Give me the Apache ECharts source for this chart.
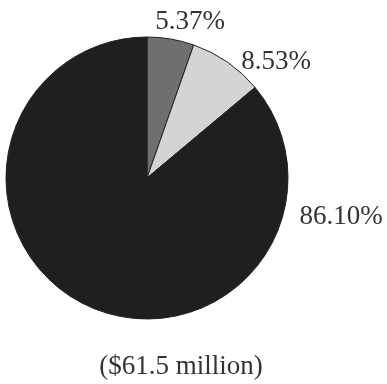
<!DOCTYPE html>
<html>
<head>
<meta charset="utf-8">
<script src="https://cdn.jsdelivr.net/npm/echarts@6/dist/echarts.min.js"></script>
<style>html,body{margin:0;padding:0;background:#fff;}#c{width:387px;height:384px;}</style>
</head>
<body>
<div id="c"></div>
<script>
var categories = ['A', 'B', 'C'];
var values = [5.37, 8.53, 86.10];
var labels = ['5.37%', '8.53%', '86.10%'];
var footnote = '($61.5 million)';

var colors = ['#6f6f6f', '#d4d4d4', '#1f1f1f'];
var labelPos = [[190, 22], [276, 62], [341, 217]];
var FONT = '"Liberation Serif", "Times New Roman", serif';

var chart = echarts.init(document.getElementById('c'), null, {renderer: 'canvas'});
chart.setOption({
  animation: false,
  backgroundColor: '#ffffff',
  title: {
    text: footnote,
    left: 176, top: 362, textAlign: 'center', textVerticalAlign: 'middle',
    textStyle: {fontFamily: FONT, fontSize: 27, fontWeight: 'normal', color: '#333'}
  },
  series: [{
    type: 'pie',
    center: [147, 178],
    radius: 141,
    startAngle: 90,
    clockwise: true,
    avoidLabelOverlap: false,
    data: categories.map(function (c, i) {
      return {name: c, value: values[i], itemStyle: {color: colors[i]}};
    }),
    itemStyle: {borderColor: '#222', borderWidth: 1},
    label: {
      show: true,
      position: 'outside',
      overflow: 'none',
      formatter: function (p) { return labels[p.dataIndex]; },
      fontFamily: FONT, fontSize: 27, color: '#333'
    },
    labelLine: {show: false},
    labelLayout: function (p) {
      var pos = labelPos[p.dataIndex];
      return {x: pos[0], y: pos[1], align: 'center', verticalAlign: 'middle'};
    }
  }]
});
</script>
</body>
</html>
